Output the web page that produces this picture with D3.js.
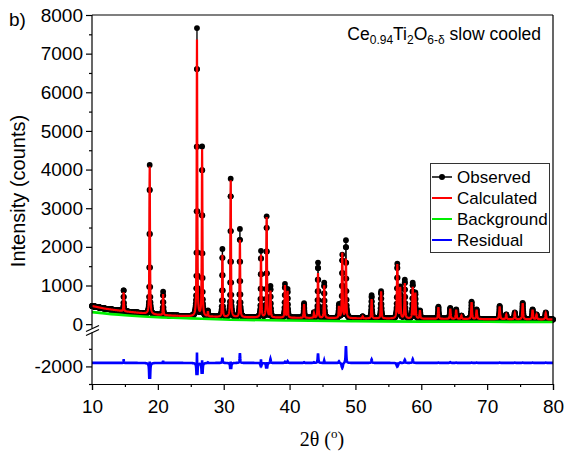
<!DOCTYPE html>
<html><head><meta charset="utf-8">
<script src="https://cdn.jsdelivr.net/npm/d3@7/dist/d3.min.js"></script>
<style>
body{margin:0;background:#fff}
svg{display:block;font-family:"Liberation Sans",Arial,sans-serif}
</style></head>
<body><svg id="c" width="566" height="458"></svg>
<script>
// ---- data ----
const xTicks = [10,20,30,40,50,60,70,80];
const yTicksUpper = [0,1000,2000,3000,4000,5000,6000,7000,8000];
const yTicksLower = [-2000];
// peak positions (2θ), observed peak-top intensity, calculated peak-top intensity, calc width factor
const peakPos  = [14.81,18.76,20.80,25.94,26.72,27.60,29.80,31.06,32.46,35.66,36.52,37.10,39.30,39.70,42.20,43.70,44.32,45.26,47.50,48.00,48.56,51.10,52.46,53.90,56.36,56.80,57.50,58.70,59.10,59.80,62.60,64.40,65.30,66.10,67.64,68.40,71.90,72.90,74.20,75.40,76.90,77.50,78.90];
const peakObs  = [ 900,4120, 840,7650,4580, 340,1940,3760,2460,1890,2780, 970,1030, 900, 540, 300,1590,1070, 500,1780,2160, 200, 750, 850,1550, 950,1140,1060, 800, 350, 450, 420, 380, 220, 580, 380, 470, 250, 300, 550, 380, 250, 300];
const peakCalc = [ 820,4080, 780,7350,4500, 320,1790,3720,2180,1790,2760, 850,1000, 850, 520, 280,1320,1000, 450,1840,1680, 200, 650, 850,1540, 930,1050, 950, 800, 350, 440, 400, 370, 220, 570, 370, 460, 250, 290, 540, 370, 250, 290];
const calcWidth= [1.05,1.25,1.05,1.12,1.15,1.0,1.0,1.1,1.0,1.12,1.12,1.0,1.0,1.0,1.0,1.0,1.0,1.05,1.0,1.1,1.0,1.0,1.0,1.0,1.12,1.0,1.0,1.0,1.0,1.0,1.0,1.0,1.0,1.0,1.0,1.0,1.0,1.0,1.0,1.0,1.0,1.0,1.0];
// observed baseline and refined background
const baseX = [10,12,15,20,25,30,40,50,60,70,80];
const baseY = [470,400,330,240,200,185,165,150,140,130,120];
const bgX = [10,15,20,25,30,40,50,60,70,80];
const bgY = [310,230,180,150,120,95,75,65,60,55];
const residOffset = -1900;
const legendItems = ["Observed","Calculated","Background","Residual"];
const legendColors = ["#000","#ff0000","#00ee00","#0000ff"];

// ---- scales ----
const svg = d3.select("#c");
const X0=92, X1=553, YT=15, YB=384;
const x = d3.scaleLinear().domain([10,80]).range([X0,X1]);
const yU = d3.scaleLinear().domain([-100,8000]).range([328,YT]);
const yL = d3.scaleLinear().domain([-2500,-1050]).range([YB,333]);

// ---- profile model built from the read peaks ----
const baseAt = d3.scaleLinear().domain(baseX).range(baseY);
const eta = 0.7;
function pv(t,c,f){const d=t-c, r=4*d*d/(f*f);return eta/(1+r)+(1-eta)*Math.exp(-Math.LN2*r);}
function fw(c){return 0.075+0.0012*(c-10);}
const grid = d3.range(0,3501).map(i=>10+i*0.02);
const obs=[],calc=[],res=[];
grid.forEach(t=>{
  let o=baseAt(t), cc=baseAt(t);
  peakPos.forEach((p,i)=>{
    if(Math.abs(t-p)>3) return;
    const b=baseAt(p);
    o += (peakObs[i]-b)*pv(t,p,fw(p));
    cc += (peakCalc[i]-b)*pv(t,p,fw(p)*calcWidth[i]);
  });
  obs.push([t,o]);calc.push([t,cc]);res.push([t,o-cc+residOffset]);
});
const bg = bgX.map((v,i)=>[v,bgY[i]]);

// ---- draw data ----
const g = svg.append("g");
g.append("path").datum(obs).attr("fill","none").attr("stroke","#000").attr("stroke-width",1.3)
 .attr("d",d3.line().x(d=>x(d[0])).y(d=>yU(d[1])));
g.selectAll("circle.o").data(obs).enter().append("circle").attr("class","o")
 .attr("cx",d=>x(d[0])).attr("cy",d=>yU(d[1])).attr("r",2.9).attr("fill","#000");
g.append("path").datum(bg).attr("fill","none").attr("stroke","#00ee00").attr("stroke-width",2.6)
 .attr("d",d3.line().curve(d3.curveMonotoneX).x(d=>x(d[0])).y(d=>yU(d[1])));
g.append("path").datum(calc).attr("fill","none").attr("stroke","#ff0000").attr("stroke-width",2.2)
 .attr("d",d3.line().x(d=>x(d[0])).y(d=>yU(d[1])));
g.append("path").datum(res).attr("fill","none").attr("stroke","#0000ff").attr("stroke-width",2.6)
 .attr("d",d3.line().x(d=>x(d[0])).y(d=>yL(d[1])));

// ---- axes ----
const ax = svg.append("g").attr("stroke","#000").attr("fill","none");
ax.append("line").attr("x1",X0).attr("x2",X1).attr("y1",YT).attr("y2",YT).attr("stroke-width",1.2);
ax.append("line").attr("x1",X1).attr("x2",X1).attr("y1",YT).attr("y2",YB).attr("stroke-width",1.2);

const fontTick = 19;
const fmt = d=>String(d);
const xa = svg.append("g").attr("transform",`translate(0,${YB})`)
 .call(d3.axisBottom(x).tickValues(xTicks).tickSize(6).tickFormat(fmt));
const xm = svg.append("g").attr("transform",`translate(0,${YB})`)
 .call(d3.axisBottom(x).tickValues(d3.range(15,80,10)).tickSize(3).tickFormat(""));
xm.select(".domain").remove();
xa.select(".domain").attr("stroke-width",1.2);
xa.selectAll("text").attr("font-size",fontTick).attr("font-family","Liberation Sans, Arial").attr("fill","#000").attr("dy","1.05em");

const yaU = svg.append("g").attr("transform",`translate(${X0},0)`)
 .call(d3.axisLeft(yU).tickValues(yTicksUpper).tickSize(6).tickFormat(fmt));
yaU.select(".domain").remove();
svg.append("g").attr("transform",`translate(${X0},0)`)
 .call(d3.axisLeft(yU).tickValues(d3.range(500,8000,1000)).tickSize(3).tickFormat(""))
 .select(".domain").remove();
const yaL = svg.append("g").attr("transform",`translate(${X0},0)`)
 .call(d3.axisLeft(yL).tickValues(yTicksLower).tickSize(6).tickFormat(fmt));
yaL.select(".domain").remove();
svg.append("g").attr("transform",`translate(${X0},0)`)
 .call(d3.axisLeft(yL).tickValues([-1500,-2500]).tickSize(3).tickFormat(""))
 .select(".domain").remove();
[yaU,yaL].forEach(a=>a.selectAll("text").attr("font-size",fontTick).attr("font-family","Liberation Sans, Arial").attr("fill","#000").attr("x",-9));
svg.selectAll(".tick line").attr("stroke-width",1.2);
ax.append("line").attr("x1",X0).attr("x2",X0).attr("y1",YT).attr("y2",328.5).attr("stroke-width",1.2);
ax.append("line").attr("x1",X0).attr("x2",X0).attr("y1",332.5).attr("y2",YB).attr("stroke-width",1.2);
ax.append("line").attr("x1",86).attr("x2",99).attr("y1",331.5).attr("y2",325.5).attr("stroke-width",1.2);
ax.append("line").attr("x1",86).attr("x2",99).attr("y1",335.5).attr("y2",329.5).attr("stroke-width",1.2);

// ---- texts ----
svg.append("text").attr("x",9).attr("y",26).attr("font-size",19).text("b)");
svg.append("text").attr("transform","translate(25,191) rotate(-90)").attr("text-anchor","middle")
 .attr("font-size",20).text("Intensity (counts)");
const xt = svg.append("text").attr("x",322).attr("y",446).attr("text-anchor","middle")
 .attr("font-family","Liberation Serif, Times New Roman, serif").attr("font-size",20);
xt.append("tspan").text("2θ (");
xt.append("tspan").attr("font-size",13).attr("dy",-8).text("o");
xt.append("tspan").attr("dy",8).text(")");

const tt = svg.append("text").attr("x",541).attr("y",40).attr("text-anchor","end").attr("font-size",17.5);
tt.append("tspan").text("Ce");
tt.append("tspan").attr("font-size",12).attr("dy",4).text("0.94");
tt.append("tspan").attr("dy",-4).text("Ti");
tt.append("tspan").attr("font-size",12).attr("dy",4).text("2");
tt.append("tspan").attr("dy",-4).text("O");
tt.append("tspan").attr("font-size",12).attr("dy",4).text("6-δ");
tt.append("tspan").attr("dy",-4).text(" slow cooled");

// ---- legend ----
const lg = svg.append("g");
lg.append("rect").attr("x",430.5).attr("y",163.5).attr("width",119).attr("height",89)
 .attr("fill","#fff").attr("stroke","#333").attr("stroke-width",1);
legendItems.forEach((name,i)=>{
  const cy = 177+i*21;
  lg.append("line").attr("x1",432).attr("x2",452).attr("y1",cy).attr("y2",cy)
    .attr("stroke",legendColors[i]).attr("stroke-width",i===0?1.5:2);
  if(i===0) lg.append("circle").attr("cx",442).attr("cy",cy).attr("r",3).attr("fill","#000");
  lg.append("text").attr("x",457).attr("y",cy+6).attr("font-size",17).text(name);
});
</script></body></html>
